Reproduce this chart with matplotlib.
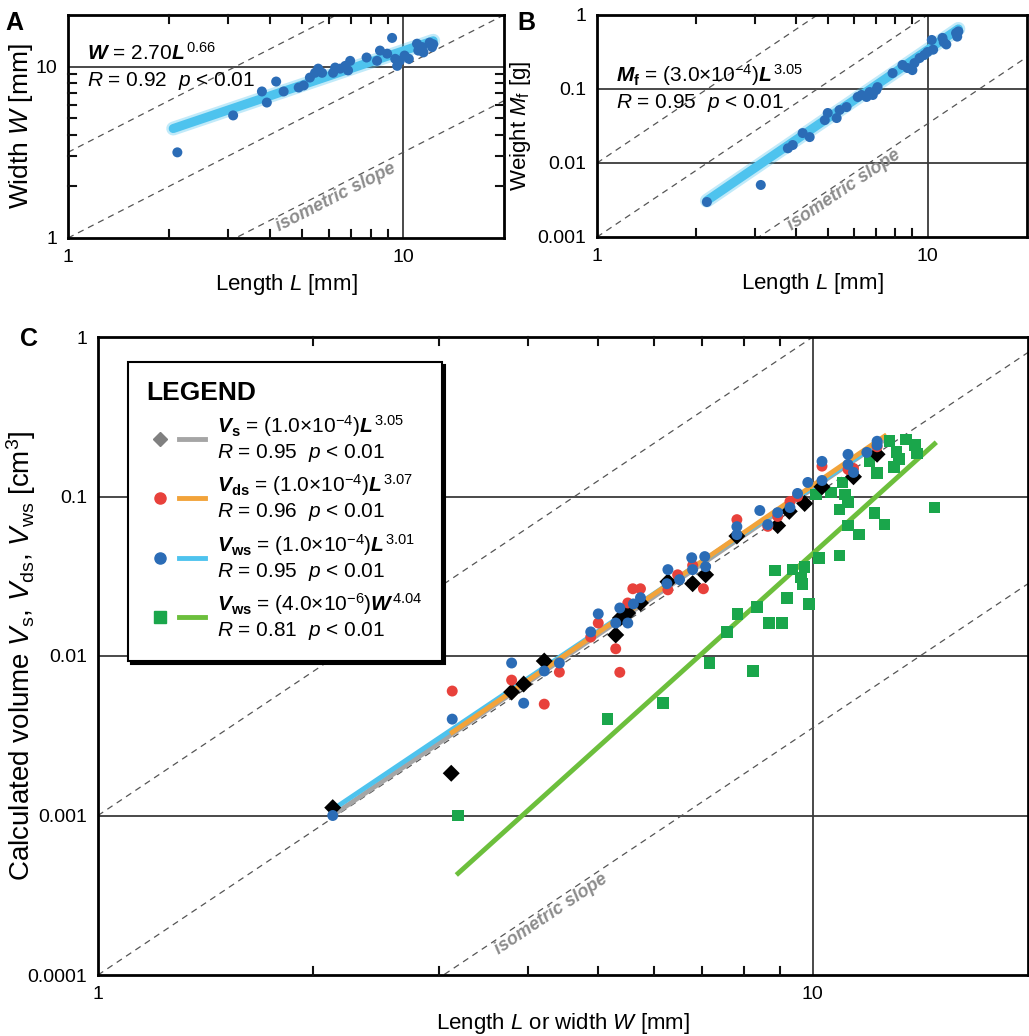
import numpy as np
import matplotlib
matplotlib.use("Agg")
import matplotlib.pyplot as plt
from matplotlib.lines import Line2D
from matplotlib.legend_handler import HandlerTuple
from matplotlib.ticker import FixedLocator, FixedFormatter, NullLocator

plt.rcParams['font.family'] = ['Liberation Sans', 'DejaVu Sans']
plt.rcParams['mathtext.fontset'] = 'custom'
plt.rcParams['mathtext.rm'] = 'Liberation Sans'
plt.rcParams['mathtext.it'] = 'Liberation Sans:italic'
plt.rcParams['mathtext.bf'] = 'Liberation Sans:bold'
plt.rcParams['mathtext.bfit'] = 'Liberation Sans:bold:italic'

# ---- panel A : width vs length ----
a_len = [2.12, 3.11, 3.79, 3.92, 4.18, 4.40, 4.88, 5.05, 5.27, 5.46, 5.58, 5.73, 6.18, 6.27,
         6.49, 6.72, 6.95, 6.85, 7.78, 8.36, 8.53, 8.96, 9.27, 9.47, 9.60, 9.77, 10.1, 10.4,
         11.0, 11.1, 11.4, 11.5, 12.0, 12.2, 12.3]
a_wid = [3.16, 5.19, 7.16, 6.17, 8.18, 7.16, 7.55, 7.76, 8.63, 9.2, 9.73, 9.2, 9.2, 9.87,
         9.73, 10.1, 10.8, 9.5, 11.3, 10.8, 12.4, 11.9, 14.7, 11.1, 10.1, 10.8, 11.6, 11.1,
         13.6, 12.4, 13.0, 12.1, 13.8, 13.0, 13.5]
a_fit = (2.70, 0.66)
a_fit_range = (2.06, 12.3)
a_iso = [0.5, 0.0, -0.5]

# ---- panel B : weight vs length ----
b_len = [2.15, 3.13, 3.78, 3.91, 4.19, 4.40, 4.89, 4.99, 5.31, 5.42, 5.69, 6.15, 6.31, 6.54,
         6.68, 6.83, 7.00, 7.06, 7.84, 8.40, 8.70, 9.00, 9.13, 9.46, 9.78, 10.0, 10.3, 10.4,
         11.1, 11.2, 11.4, 12.2, 12.3, 12.4]
b_wgt = [0.00297, 0.00505, 0.0158, 0.0175, 0.0254, 0.0224, 0.038, 0.0474, 0.0405, 0.052,
         0.057, 0.078, 0.083, 0.078, 0.091, 0.083, 0.097, 0.106, 0.164, 0.211, 0.192, 0.18,
         0.224, 0.262, 0.288, 0.316, 0.46, 0.34, 0.49, 0.43, 0.40, 0.57, 0.51, 0.60]
b_fit = (3.0e-4, 3.05)
b_fit_range = (2.15, 12.4)
b_iso = [-2.0, -3.0, -4.47]

# ---- panel C : calculated volumes ----
vs_len = [2.13, 3.12, 3.79, 3.94, 4.21, 5.30, 5.38, 5.51, 5.74, 6.27, 6.79, 7.08, 7.83,
          8.93, 9.27, 9.74, 10.3, 11.4, 12.3]
vs_val = [0.00112, 0.00184, 0.00594, 0.00667, 0.0093, 0.01355, 0.0173, 0.0186, 0.0215,
          0.0292, 0.0284, 0.0323, 0.0565, 0.0657, 0.0807, 0.0904, 0.115, 0.133, 0.184]

vds_len = [3.13, 3.79, 4.21, 4.42, 4.89, 5.01, 5.30, 5.37, 5.51, 5.60, 5.74, 6.27, 6.47,
           7.03, 6.79, 7.83, 8.65, 8.93, 9.29, 9.52, 10.3, 11.2, 11.4, 12.3]
vds_val = [0.00603, 0.00706, 0.00499, 0.00792, 0.01315, 0.0161, 0.0111, 0.0079, 0.0215,
           0.0264, 0.0264, 0.026, 0.0323, 0.0264, 0.037, 0.0716, 0.065, 0.075, 0.093, 0.10,
           0.155, 0.148, 0.15, 0.205]

vws_len = [2.13, 3.13, 3.79, 3.94, 4.21, 4.42, 4.89, 5.01, 5.30, 5.37, 5.51, 5.61, 5.74,
           6.27, 6.25, 6.51, 6.77, 6.79, 7.06, 7.08, 7.83, 7.83, 8.43, 8.65, 8.93, 9.29,
           9.52, 9.84, 10.3, 10.3, 11.2, 11.2, 11.4, 11.9, 12.3, 12.3]
vws_val = [0.001, 0.00402, 0.00904, 0.00506, 0.00805, 0.00904, 0.01416, 0.01837, 0.0161,
           0.02, 0.0161, 0.0212, 0.0232, 0.0348, 0.0284, 0.0301, 0.0413, 0.0348, 0.042,
           0.0363, 0.0647, 0.0577, 0.0817, 0.0667, 0.0792, 0.0853, 0.1045, 0.1225, 0.166,
           0.126, 0.1837, 0.159, 0.1416, 0.189, 0.222, 0.21]

vw_wid = [3.19, 5.16, 6.17, 7.17, 7.58, 7.85, 8.24, 8.35, 8.68, 8.85, 9.06, 9.2, 9.37, 9.62,
          9.67, 9.74, 9.87, 10.1, 10.2, 10.6, 10.9, 10.9, 11.0, 11.1, 11.2, 11.2, 11.6, 12.0,
          12.2, 12.3, 12.6, 12.8, 13.0, 13.1, 13.2, 13.5, 13.9, 14.0, 14.8]
vw_val = [0.001, 0.00402, 0.00506, 0.009, 0.0142, 0.0184, 0.00805, 0.0203, 0.0161, 0.0343,
          0.0161, 0.0232, 0.0348, 0.031, 0.0283, 0.0363, 0.0212, 0.103, 0.041, 0.106, 0.083,
          0.0427, 0.1225, 0.103, 0.0922, 0.0657, 0.0577, 0.166, 0.079, 0.141, 0.0667, 0.222,
          0.153, 0.19, 0.172, 0.228, 0.21, 0.186, 0.0853]

# fit lines as drawn: (coef, exponent, x from, x to)
fit_vs = (1.0e-4, 3.05, 2.13, 12.5)
fit_vds = (1.0e-4, 3.07, 3.13, 12.6)
fit_vws = (1.12e-4, 3.01, 2.13, 12.3)
fit_vw = (4.0e-6, 4.04, 3.19, 14.8)
c_iso = [-3.0, -4.0, -5.45]

x_ticks = [1, 10]
x_ticklabels = ['1', '10']
minor_marks = [2, 3, 4, 5, 6, 7, 8, 9]

BLUE = '#2b6cb6'
LBLUE = '#4ec3ee'
RED = '#e8413b'
ORANGE = '#f2a33a'
GRAY = '#a5a5a5'
GREEN = '#1aa64b'
LGREEN = '#6cbf3c'
GRID = '#3a3a3a'


def setup(ax, ylim, yticks, yticklabels, ygrid, tsize=14):
    ax.set_xscale('log')
    ax.set_yscale('log')
    ax.set_xlim(1, 20)
    ax.set_ylim(*ylim)
    ax.xaxis.set_major_locator(FixedLocator(x_ticks))
    ax.xaxis.set_major_formatter(FixedFormatter(x_ticklabels))
    ax.xaxis.set_minor_locator(NullLocator())
    ax.yaxis.set_major_locator(FixedLocator(yticks))
    ax.yaxis.set_major_formatter(FixedFormatter(yticklabels))
    ax.yaxis.set_minor_locator(NullLocator())
    ax.tick_params(length=0, labelsize=tsize, pad=8)
    for s in ax.spines.values():
        s.set_linewidth(2.0)
    ax.axvline(10, color=GRID, lw=1.3, zorder=1)
    for g in ygrid:
        ax.axhline(g, color=GRID, lw=1.3, zorder=1)


def inner_marks(ax, vals, axis='x', px=8):
    # short inward tick marks on both opposite spines
    bb = ax.get_position()
    fw, fh = ax.figure.get_size_inches() * ax.figure.dpi
    for v in vals:
        if axis == 'x':
            f = px / (bb.height * fh)
            tr = ax.get_xaxis_transform()
            ax.plot([v, v], [0, f], transform=tr, color='#111111', lw=1.5, zorder=6,
                    clip_on=False)
            ax.plot([v, v], [1 - f, 1], transform=tr, color='#111111', lw=1.5, zorder=6,
                    clip_on=False)
        else:
            f = px / (bb.width * fw)
            tr = ax.get_yaxis_transform()
            ax.plot([0, f], [v, v], transform=tr, color='#111111', lw=1.5, zorder=6,
                    clip_on=False)
            ax.plot([1 - f, 1], [v, v], transform=tr, color='#111111', lw=1.5, zorder=6,
                    clip_on=False)


def iso_lines(ax, offsets, slope):
    xs = np.array([1.0, 20.0])
    for k in offsets:
        ax.plot(xs, 10 ** k * xs ** slope, ls=(0, (5, 4)), color='#555555', lw=0.9, zorder=1)


def iso_label(ax, x, y, slope, size):
    p1 = ax.transData.transform((x, y))
    p2 = ax.transData.transform((x * 2, y * 2 ** slope))
    ang = np.degrees(np.arctan2(p2[1] - p1[1], p2[0] - p1[0]))
    ax.text(x, y, 'isometric slope', rotation=ang, rotation_mode='anchor',
            ha='center', va='center', color='#8c8c8c', fontweight='bold',
            style='italic', fontsize=size, zorder=2)


fig = plt.figure(figsize=(10.29, 10.36), dpi=100)

# ---------------- A ----------------
axA = fig.add_axes([68 / 1029, 1 - 238 / 1036, 436 / 1029, 223 / 1036])
setup(axA, (1, 20), [1, 10], ['1', '10'], [10])
inner_marks(axA, minor_marks, 'x')
inner_marks(axA, minor_marks, 'y')
iso_lines(axA, a_iso, 1)
xf = np.linspace(*a_fit_range, 50)
axA.plot(xf, a_fit[0] * xf ** a_fit[1], color=LBLUE, lw=10, alpha=0.35,
         solid_capstyle='round', zorder=2)
axA.plot(xf, a_fit[0] * xf ** a_fit[1], color=LBLUE, lw=6.5, solid_capstyle='round', zorder=2)
axA.scatter(a_len, a_wid, s=52, color=BLUE, edgecolors='none', zorder=3)
iso_label(axA, 6.3, 1.73, 1, 13)
axA.text(0.044, 0.80, r"$\mathbfit{W}$ = 2.70$\mathbfit{L}^{\,0.66}$",
         transform=axA.transAxes, fontsize=15, zorder=4)
axA.text(0.044, 0.68, r"$\mathit{R}$ = 0.92  $\mathit{p}$ < 0.01",
         transform=axA.transAxes, fontsize=15, zorder=4)
axA.set_xlabel(r"Length $\mathit{L}$ [mm]", fontsize=16, labelpad=4)
axA.set_ylabel(r"Width $\mathit{W}$ [mm]", fontsize=19)
axA.yaxis.set_label_coords(-0.075, 0.5)
fig.text(5 / 1029, 1 - 30 / 1036, 'A', fontsize=18, fontweight='bold')

# ---------------- B ----------------
axB = fig.add_axes([597 / 1029, 1 - 237 / 1036, 430 / 1029, 222 / 1036])
setup(axB, (0.001, 1), [0.001, 0.01, 0.1, 1], ['0.001', '0.01', '0.1', '1'], [0.01, 0.1])
inner_marks(axB, minor_marks, 'x')
iso_lines(axB, b_iso, 3)
xf = np.linspace(*b_fit_range, 50)
axB.plot(xf, b_fit[0] * xf ** b_fit[1], color=LBLUE, lw=10, alpha=0.35,
         solid_capstyle='round', zorder=2)
axB.plot(xf, b_fit[0] * xf ** b_fit[1], color=LBLUE, lw=6.5, solid_capstyle='round', zorder=2)
axB.scatter(b_len, b_wgt, s=52, color=BLUE, edgecolors='none', zorder=3)
iso_label(axB, 5.6, 0.0043, 3, 13)
axB.text(0.044, 0.70, r"$\mathbfit{M}_{\mathbf{f}}$ = (3.0×10$^{-4}$)$\mathbfit{L}^{\,3.05}$",
         transform=axB.transAxes, fontsize=15, zorder=4)
axB.text(0.044, 0.58, r"$\mathit{R}$ = 0.95  $\mathit{p}$ < 0.01",
         transform=axB.transAxes, fontsize=15, zorder=4)
axB.set_xlabel(r"Length $\mathit{L}$ [mm]", fontsize=16, labelpad=4)
axB.set_ylabel(r"Weight $\mathit{M}_{\mathrm{f}}$ [g]", fontsize=16)
axB.yaxis.set_label_coords(-0.148, 0.5)
fig.text(517 / 1029, 1 - 30 / 1036, 'B', fontsize=18, fontweight='bold')

# ---------------- C ----------------
axC = fig.add_axes([98 / 1029, 1 - 975 / 1036, 930 / 1029, 638 / 1036])
setup(axC, (0.0001, 1), [0.0001, 0.001, 0.01, 0.1, 1],
      ['0.0001', '0.001', '0.01', '0.1', '1'], [0.001, 0.01, 0.1])
inner_marks(axC, minor_marks, 'x')
iso_lines(axC, c_iso, 3)
for (c, e, x0, x1), col in [(fit_vs, GRAY), (fit_vws, LBLUE), (fit_vds, ORANGE), (fit_vw, LGREEN)]:
    xf = np.linspace(x0, x1, 50)
    axC.plot(xf, c * xf ** e, color=col, lw=3.5, zorder=2)
axC.scatter(vw_wid, vw_val, s=70, marker='s', color=GREEN, edgecolors='none', zorder=3)
axC.scatter(vs_len, vs_val, s=75, marker='D', color='black', edgecolors='none', zorder=3)
axC.scatter(vds_len, vds_val, s=62, color=RED, edgecolors='none', zorder=4)
axC.scatter(vws_len, vws_val, s=62, color=BLUE, edgecolors='none', zorder=5)
iso_label(axC, 4.3, 0.00024, 3, 13)
axC.set_xlabel(r"Length $\mathit{L}$ or width $\mathit{W}$ [mm]", fontsize=16, labelpad=6)
axC.set_ylabel(r"Calculated volume $\mathit{V}_{\mathrm{s}}$, $\mathit{V}_{\mathrm{ds}}$, "
               r"$\mathit{V}_{\mathrm{ws}}$ [cm$^3$]", fontsize=20)
axC.yaxis.set_label_coords(-0.064, 0.5)
fig.text(20 / 1029, 1 - 346 / 1036, 'C', fontsize=18, fontweight='bold')

handles = [
    (Line2D([], [], ls='none', marker='D', ms=7, color='#808080'),
     Line2D([], [], color=GRAY, lw=3.5)),
    (Line2D([], [], ls='none', marker='o', ms=8, color=RED),
     Line2D([], [], color=ORANGE, lw=3.5)),
    (Line2D([], [], ls='none', marker='o', ms=8, color=BLUE),
     Line2D([], [], color=LBLUE, lw=3.5)),
    (Line2D([], [], ls='none', marker='s', ms=8, color=GREEN),
     Line2D([], [], color=LGREEN, lw=3.5)),
]
labels = [
    r"$\mathbfit{V}_{\mathbf{s}}$ = (1.0×10$^{-4}$)$\mathbfit{L}^{\,3.05}$" + "\n"
    + r"$\mathit{R}$ = 0.95  $\mathit{p}$ < 0.01",
    r"$\mathbfit{V}_{\mathbf{ds}}$ = (1.0×10$^{-4}$)$\mathbfit{L}^{\,3.07}$" + "\n"
    + r"$\mathit{R}$ = 0.96  $\mathit{p}$ < 0.01",
    r"$\mathbfit{V}_{\mathbf{ws}}$ = (1.0×10$^{-4}$)$\mathbfit{L}^{\,3.01}$" + "\n"
    + r"$\mathit{R}$ = 0.95  $\mathit{p}$ < 0.01",
    r"$\mathbfit{V}_{\mathbf{ws}}$ = (4.0×10$^{-6}$)$\mathbfit{W}^{\,4.04}$" + "\n"
    + r"$\mathit{R}$ = 0.81  $\mathit{p}$ < 0.01",
]
leg = axC.legend(handles, labels, handler_map={tuple: HandlerTuple(ndivide=None, pad=0.3)},
                 loc='upper left', bbox_to_anchor=(0.032, 0.961), borderaxespad=0,
                 fontsize=15, title='LEGEND',
                 title_fontproperties={'weight': 'heavy', 'size': 19},
                 alignment='left', fancybox=False, edgecolor='black', framealpha=1,
                 shadow={'color': 'black', 'alpha': 1}, handlelength=2.8,
                 handletextpad=0.6, labelspacing=0.4, borderpad=0.9)
leg.get_frame().set_linewidth(1.5)
leg.set_zorder(10)

fig.savefig('out.png', dpi=100)
